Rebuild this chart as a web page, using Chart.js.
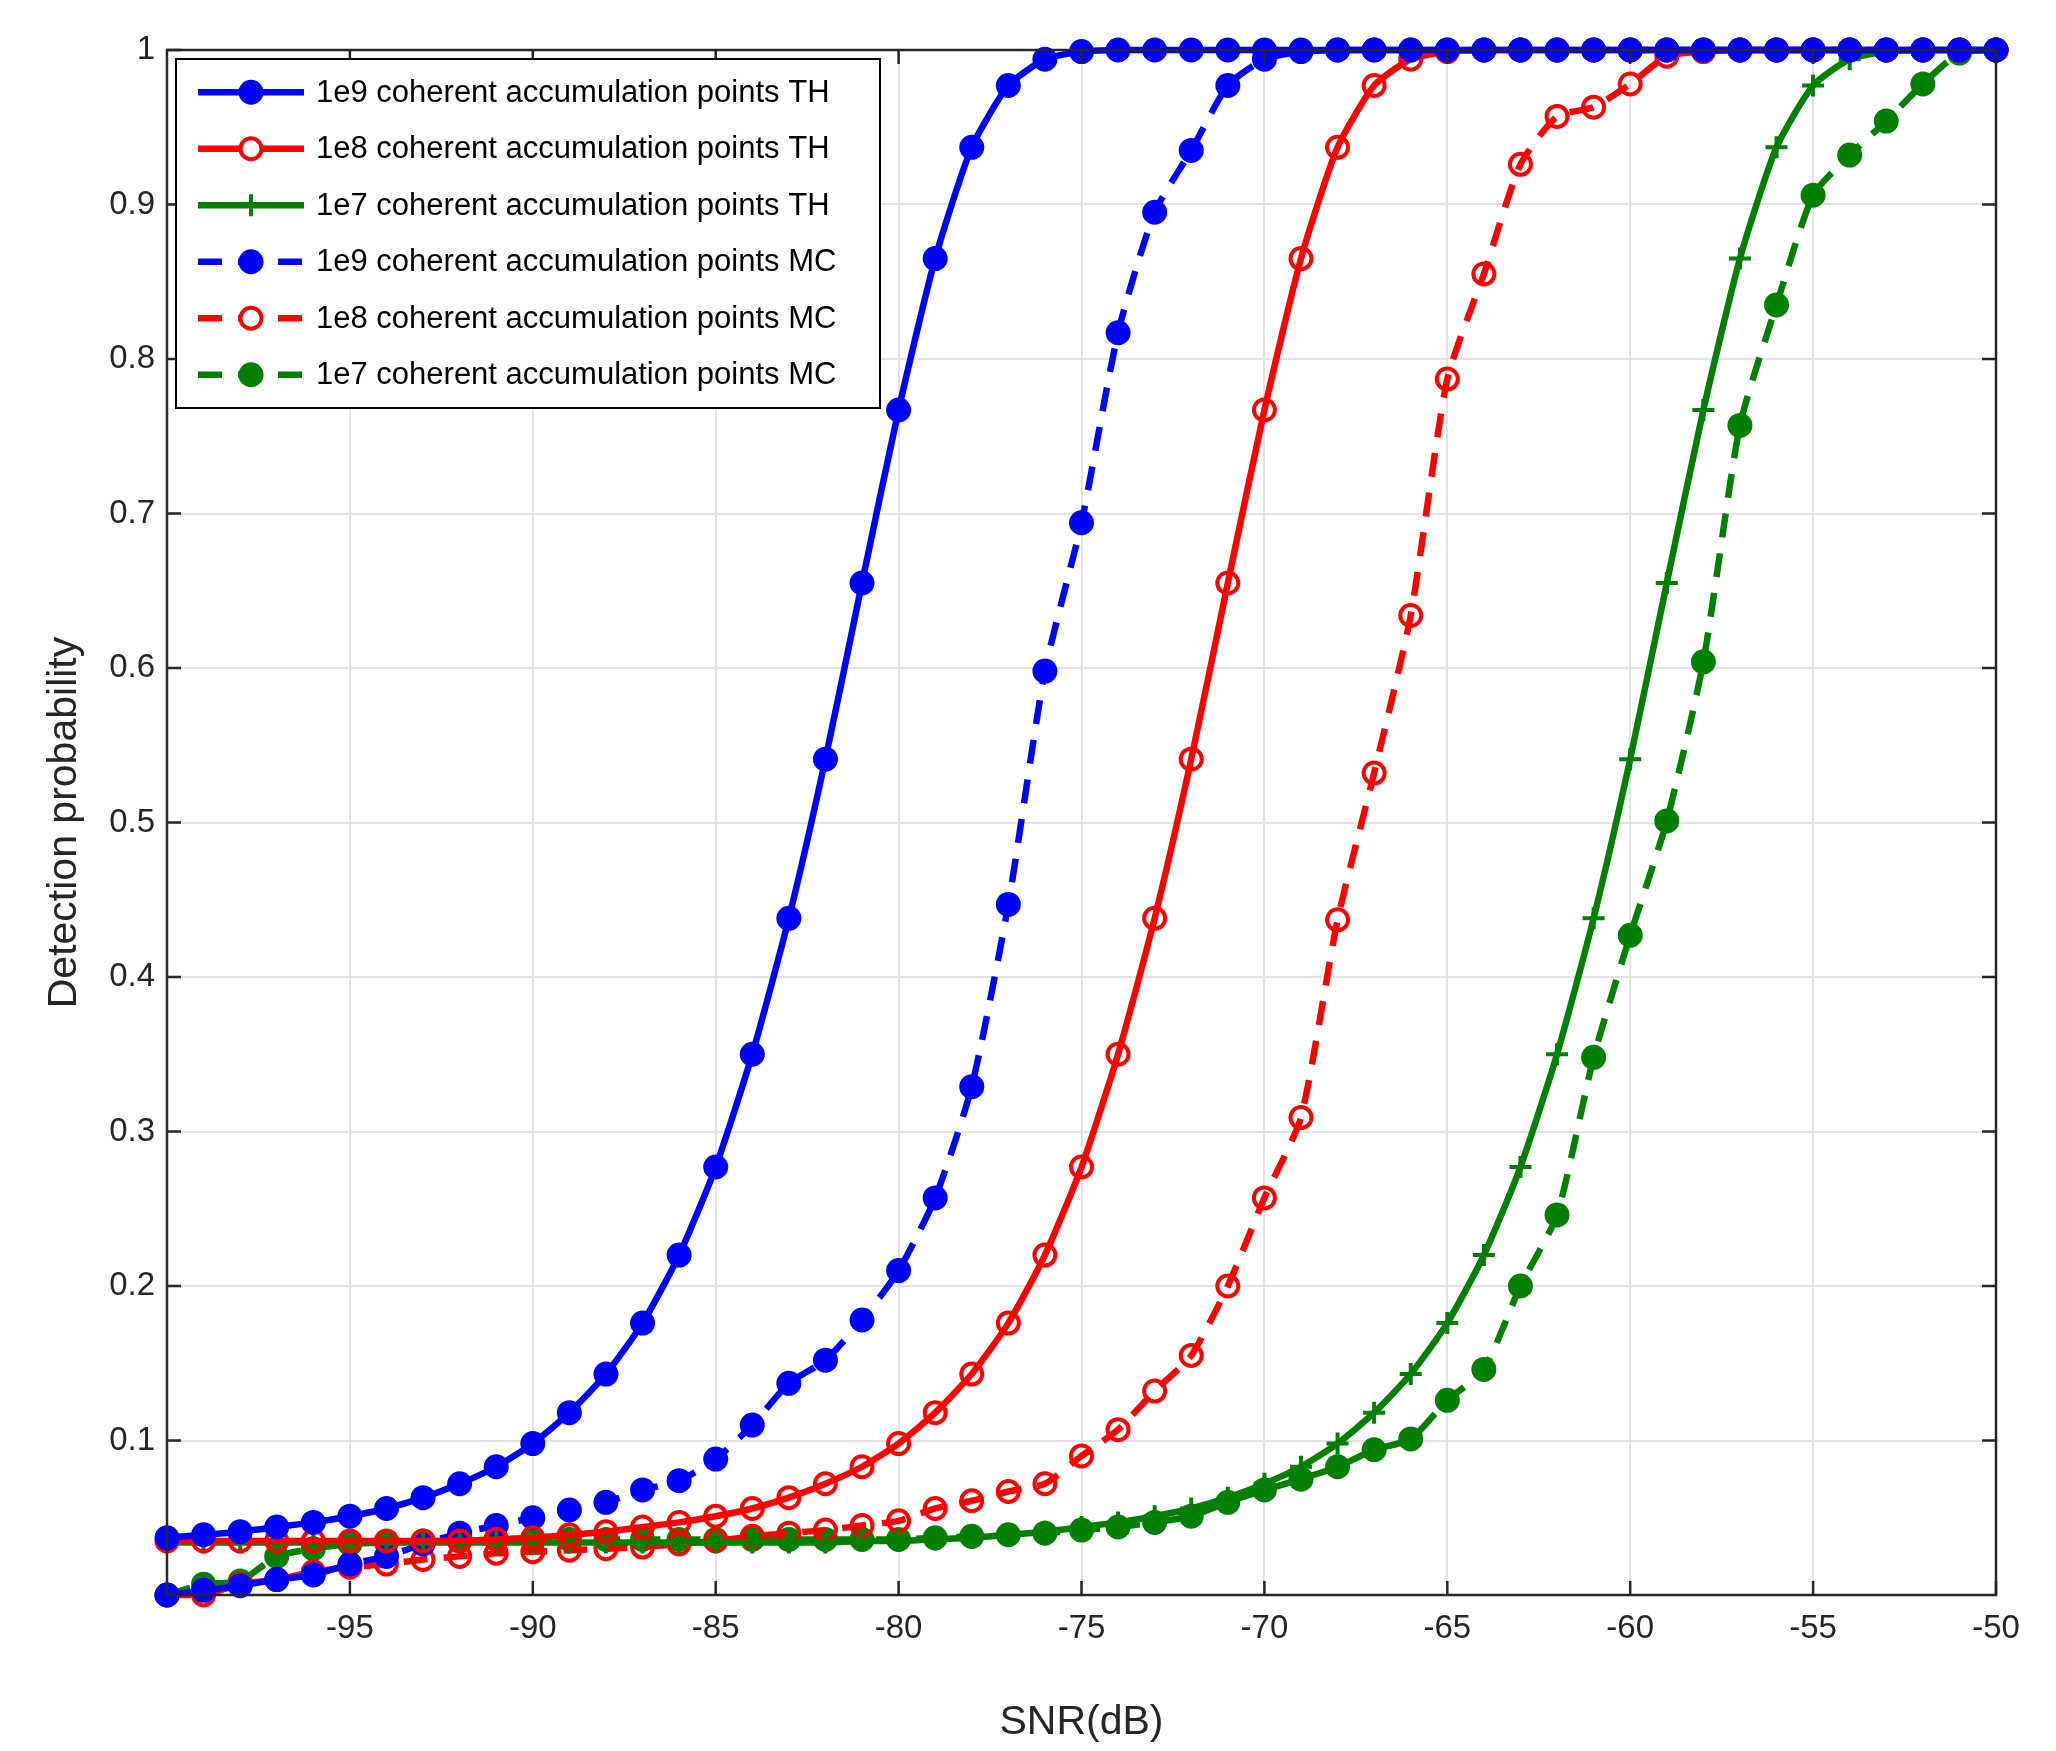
<!DOCTYPE html>
<html><head><meta charset="utf-8">
<script src="https://cdn.jsdelivr.net/npm/chart.js@4/dist/chart.umd.min.js"></script>
<style>html,body{margin:0;padding:0;background:#fff}#w{width:2056px;height:1751px}</style>
</head><body><div id="w"><canvas id="c"></canvas></div>
<script>
const snr = [];
for (let v = -100; v <= -50; v++) snr.push(v);
const th1e9 = [0.037,0.039,0.041,0.044,0.047,0.051,0.056,0.063,0.072,0.083,0.098,0.118,0.143,0.176,0.220,0.277,0.350,0.438,0.541,0.655,0.767,0.865,0.937,0.977,0.994,0.999,1,1,1,1,1,1,1,1,1,1,1,1,1,1,1,1,1,1,1,1,1,1,1,1,1];
const th1e8 = [0.035,0.035,0.035,0.035,0.035,0.035,0.035,0.035,0.035,0.036,0.037,0.039,0.041,0.044,0.047,0.051,0.056,0.063,0.072,0.083,0.098,0.118,0.143,0.176,0.220,0.277,0.350,0.438,0.541,0.655,0.767,0.865,0.937,0.977,0.994,0.999,1,1,1,1,1,1,1,1,1,1,1,1,1,1,1];
const th1e7 = [0.034,0.034,0.034,0.034,0.034,0.034,0.034,0.034,0.034,0.034,0.034,0.034,0.034,0.034,0.034,0.034,0.034,0.034,0.034,0.035,0.035,0.036,0.037,0.039,0.041,0.044,0.047,0.051,0.056,0.063,0.072,0.083,0.098,0.118,0.143,0.176,0.220,0.277,0.350,0.438,0.541,0.655,0.767,0.865,0.937,0.977,0.994,0.999,1,1,1];
const mc1e9 = [0.0,0.003,0.006,0.010,0.013,0.020,0.025,0.033,0.040,0.045,0.050,0.055,0.060,0.068,0.074,0.088,0.110,0.137,0.152,0.178,0.210,0.257,0.329,0.447,0.598,0.694,0.817,0.895,0.935,0.977,0.994,0.999,1,1,1,1,1,1,1,1,1,1,1,1,1,1,1,1,1,1,1];
const mc1e8 = [0.0,0.0,0.007,0.010,0.015,0.018,0.020,0.023,0.025,0.027,0.028,0.029,0.030,0.031,0.033,0.035,0.038,0.040,0.042,0.045,0.048,0.056,0.061,0.067,0.072,0.090,0.107,0.132,0.155,0.200,0.257,0.309,0.437,0.532,0.634,0.787,0.855,0.926,0.957,0.963,0.978,0.996,0.999,1,1,1,1,1,1,1,1];
const mc1e7 = [0.0,0.007,0.009,0.025,0.030,0.033,0.034,0.035,0.035,0.036,0.036,0.036,0.036,0.036,0.036,0.036,0.036,0.036,0.036,0.036,0.036,0.037,0.038,0.039,0.040,0.042,0.044,0.047,0.051,0.060,0.068,0.075,0.083,0.094,0.101,0.126,0.146,0.200,0.246,0.348,0.427,0.501,0.604,0.757,0.835,0.906,0.932,0.954,0.978,0.998,1];
const labels = ['1e9 coherent accumulation points TH','1e8 coherent accumulation points TH','1e7 coherent accumulation points TH','1e9 coherent accumulation points MC','1e8 coherent accumulation points MC','1e7 coherent accumulation points MC'];
const BLUE='#0000ff', RED='#ff0000', GREEN='#007f00';
function ds(label, data, color, dash, style, filled){
  return {label, data: data.map((y,i)=>({x:snr[i],y})), borderColor:color, backgroundColor: filled?color:'#ffffff',
    borderWidth:6.5, borderDash:dash, pointStyle:style, pointRadius: style==='cross'?11:10.5, pointBorderWidth:4,
    pointBorderColor:color, pointBackgroundColor: filled?color:'rgba(0,0,0,0)', tension:0.2, fill:false, clip:false};
}
const datasets = [
  ds(labels[0], th1e9, BLUE, [], 'circle', true),
  ds(labels[1], th1e8, RED, [], 'circle', false),
  ds(labels[2], th1e7, GREEN, [], 'cross', false),
  ds(labels[3], mc1e9, BLUE, [24,16], 'circle', true),
  ds(labels[4], mc1e8, RED, [24,16], 'circle', false),
  ds(labels[5], mc1e7, GREEN, [24,16], 'circle', true),
];
const FONT = '"Liberation Sans", Arial, sans-serif';
const legendBox = {
  id:'legendBox',
  afterDraw(chart){
    const ctx = chart.ctx, a = chart.chartArea;
    const x0 = a.left+9, y0 = a.top+9, w = 704, rowH = 56.5, h = rowH*6+10;
    ctx.save();
    ctx.fillStyle='#fff'; ctx.fillRect(x0,y0,w,h);
    ctx.strokeStyle='#000'; ctx.lineWidth=2; ctx.strokeRect(x0,y0,w,h);
    ctx.font = '31px '+FONT; ctx.textBaseline='middle';
    chart.data.datasets.forEach((d,i)=>{
      const y = y0 + 5 + rowH*(i+0.5);
      ctx.strokeStyle=d.borderColor; ctx.lineWidth=6.5; ctx.setLineDash(d.borderDash||[]);
      ctx.beginPath(); ctx.moveTo(x0+22,y); ctx.lineTo(x0+128,y); ctx.stroke(); ctx.setLineDash([]);
      const mx = x0+75; ctx.lineWidth=4;
      if(d.pointStyle==='cross'){ ctx.beginPath(); ctx.moveTo(mx-11,y); ctx.lineTo(mx+11,y); ctx.moveTo(mx,y-11); ctx.lineTo(mx,y+11); ctx.stroke(); }
      else { ctx.beginPath(); ctx.arc(mx,y,10.5,0,Math.PI*2); ctx.fillStyle=d.pointBackgroundColor==='rgba(0,0,0,0)'?'#fff':d.borderColor; ctx.fill(); ctx.stroke(); }
      ctx.fillStyle='#000'; ctx.fillText(d.label, x0+140, y+1);
    });
    ctx.restore();
  }
};
const frame = {
  id:'frame',
  afterDraw(chart){
    const ctx=chart.ctx,a=chart.chartArea,xs=chart.scales.x,ys=chart.scales.y;
    ctx.save(); ctx.strokeStyle='#262626'; ctx.lineWidth=2.5;
    ctx.strokeRect(a.left,a.top,a.right-a.left,a.bottom-a.top);
    ctx.beginPath();
    for(let v=-95;v<=-50;v+=5){const x=xs.getPixelForValue(v);ctx.moveTo(x,a.bottom);ctx.lineTo(x,a.bottom-14);ctx.moveTo(x,a.top);ctx.lineTo(x,a.top+14);}
    for(let k=1;k<=10;k++){const y=ys.getPixelForValue(k/10);ctx.moveTo(a.left,y);ctx.lineTo(a.left+14,y);ctx.moveTo(a.right,y);ctx.lineTo(a.right-14,y);}
    ctx.stroke(); ctx.restore();
  }
};
new Chart(document.getElementById('c'), {
  type:'line',
  data:{datasets},
  options:{
    responsive:true, maintainAspectRatio:false, animation:false,
    layout:{padding:{top:50,right:60,left:0,bottom:0}},
    plugins:{legend:{display:false}, tooltip:{enabled:false}},
    scales:{
      x:{type:'linear', min:-100, max:-50,
        ticks:{stepSize:5, color:'#262626', font:{size:33,family:FONT}, padding:14, callback:v=>v===-100?'':v},
        grid:{color:'#e3e3e3', lineWidth:2, drawTicks:false},
        border:{display:false},
        title:{display:true, text:'SNR(dB)', color:'#262626', font:{size:41,family:FONT}, padding:{top:8}},
        afterFit:s=>{s.height=156;}},
      y:{min:0, max:1,
        ticks:{stepSize:0.1, color:'#262626', font:{size:33,family:FONT}, padding:12, callback:v=>Math.abs(v)<1e-9?'':(Math.round(v*10)/10).toString()},
        grid:{color:'#e3e3e3', lineWidth:2, drawTicks:false},
        border:{display:false},
        title:{display:true, text:'Detection probability', color:'#262626', font:{size:41,family:FONT}, padding:{top:40,bottom:4}},
        afterFit:s=>{s.width=167;}}
    }
  },
  plugins:[frame, legendBox]
});
</script></body></html>
